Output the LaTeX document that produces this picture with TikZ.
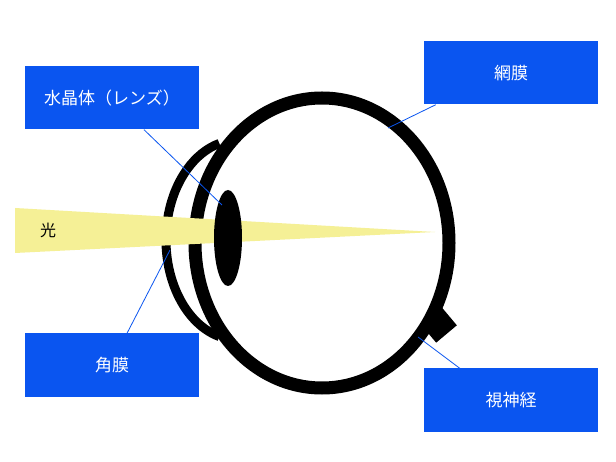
\documentclass[tikz,border=0pt]{standalone}
\usepackage{fontspec}
\newfontfamily\cjk{Noto Sans CJK JP}
\definecolor{boxblue}{RGB}{10,85,240}
\definecolor{beam}{RGB}{245,240,150}
\begin{document}
\begin{tikzpicture}[x=1pt,y=-1pt,
  lbl/.style={fill=boxblue, draw=none, minimum width=174pt, minimum height=63pt, text=white, font=\cjk\fontsize{17}{20}\selectfont},
  lead/.style={draw=boxblue, line width=0.8pt}]
\path[use as bounding box] (0,0) rectangle (616,462);
\fill[white] (0,0) rectangle (616,462);
% cornea
\draw[line width=9pt] (238,240) ++(255:72pt and 100pt) arc[start angle=255, end angle=105, x radius=72pt, y radius=100pt];
% optic nerve
\fill[rotate around={40:(437,325)}] (425,315) rectangle (452,338);
% eye ball
\draw[line width=13pt,fill=white] (322,243) ellipse[x radius=127pt, y radius=145pt];
% beam
\fill[beam] (15,208) -- (435,232) -- (15,253) -- cycle;
% lens
\fill (228,238) ellipse[x radius=14pt, y radius=48pt];
\node[font=\cjk\fontsize{16}{18}\selectfont] (hikari) at (48,230) {光};
\coordinate (pl) at (222,205);
\coordinate (pr) at (388,128);
\coordinate (pc) at (170,250);
\coordinate (pn) at (418,337);
\node[lbl] (lens) at (112,98) {水晶体（レンズ）};
\node[lbl] (ret) at (511,73) {網膜};
\node[lbl] (cor) at (112,365) {角膜};
\node[lbl] (nerve) at (511,400) {視神経};
\draw[lead] (lens.south)++(32,0) -- (pl);
\draw[lead] (ret.south west)++(12,0) -- (pr);
\draw[lead] (cor.north)++(15,0) -- (pc);
\draw[lead] (nerve.north west)++(36,0) -- (pn);
\end{tikzpicture}
\end{document}
